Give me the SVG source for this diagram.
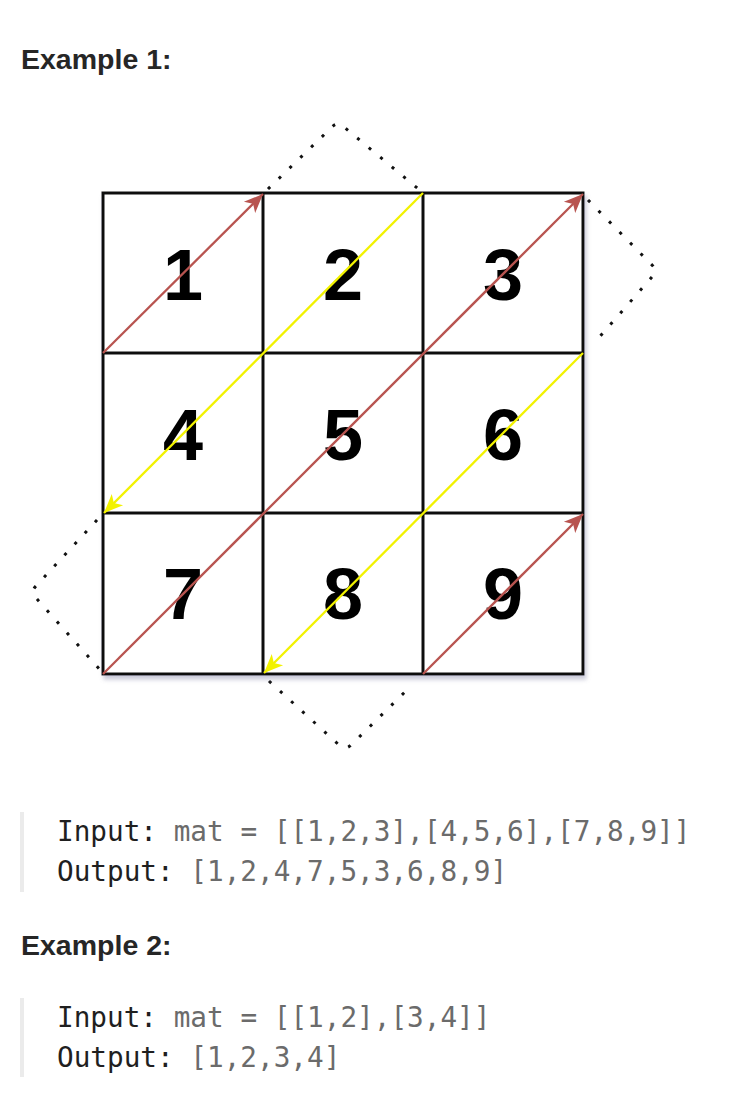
<svg xmlns="http://www.w3.org/2000/svg" width="750" height="1116" viewBox="0 0 750 1116">
<defs>
<style>
.hd{font-family:"Liberation Sans",Arial,sans-serif;font-weight:bold;font-size:28.5px;fill:#262626}
.num{font-family:"Liberation Sans",Arial,sans-serif;font-weight:bold;font-size:72px;fill:#000;text-anchor:middle}
.code{font-family:"DejaVu Sans Mono",monospace;font-size:27.7px;fill:#6b6b6b}
.kw{fill:#1f1f1f}
.grid{fill:none;stroke:#111;stroke-width:3}
.red{stroke:#b85450;stroke-width:2.3;fill:none}
.yel{stroke:#f2f200;stroke-width:2.3;fill:none}
.dot{stroke:#111;stroke-width:3;fill:none;stroke-dasharray:3 12}
.bar{fill:#ebebeb}
</style>
<filter id="sh" x="-5%" y="-5%" width="115%" height="115%">
<feDropShadow dx="2" dy="4" stdDeviation="2" flood-color="#8888aa" flood-opacity="0.45"/>
</filter>
<marker id="ar" markerUnits="userSpaceOnUse" markerWidth="22" markerHeight="18" viewBox="-20 -9 22 18" refX="0" refY="0" orient="auto">
<path d="M0,0 L-19,-8 L-14,0 L-19,8 Z" fill="#b85450"/>
</marker>
<marker id="ay" markerUnits="userSpaceOnUse" markerWidth="22" markerHeight="18" viewBox="-20 -9 22 18" refX="0" refY="0" orient="auto">
<path d="M0,0 L-19,-8 L-14,0 L-19,8 Z" fill="#f2f200"/>
</marker>
</defs>
<rect width="750" height="1116" fill="#fff"/>

<text class="hd" x="21" y="69">Example 1:</text>

<g id="dotted">
<path class="dot" d="M268,189 L332,127 Q338,121 344,127 L422,192"/>
<path class="dot" d="M588,200 L652,265 Q658,271 652,277 L595,342"/>
<path class="dot" d="M97,520 L36,586 Q30,592 36,598 L102,672"/>
<path class="dot" d="M269,681 L339,745 Q345,751 351,745 L410,687"/>
</g>

<g id="grid" filter="url(#sh)">
<rect x="103" y="193" width="480" height="481" fill="#fff"/>
<path class="grid" d="M103,193 H583 V674 H103 Z M263,193 V674 M423,193 V674 M103,353 H583 M103,513 H583"/>
</g>

<g id="n1"><text class="num" x="183" y="300">1</text></g>
<g id="n2"><text class="num" x="343" y="300">2</text></g>
<g id="n3"><text class="num" x="503" y="300">3</text></g>
<g id="n4"><text class="num" x="183" y="460">4</text></g>
<g id="n5"><text class="num" x="343" y="460">5</text></g>
<g id="n6"><text class="num" x="503" y="460">6</text></g>
<g id="n7"><text class="num" x="183" y="619">7</text></g>
<g id="n8"><text class="num" x="343" y="619">8</text></g>
<g id="n9"><text class="num" x="503" y="619">9</text></g>

<g id="connectors">
<line class="red" x1="103" y1="353" x2="263" y2="194" marker-end="url(#ar)"/>
<line class="yel" x1="423" y1="193" x2="104" y2="513" marker-end="url(#ay)"/>
<line class="red" x1="103" y1="674" x2="583" y2="194" marker-end="url(#ar)"/>
<line class="yel" x1="583" y1="353" x2="264" y2="673" marker-end="url(#ay)"/>
<line class="red" x1="423" y1="674" x2="583" y2="514" marker-end="url(#ar)"/>
</g>

<rect class="bar" x="20" y="812" width="4" height="80"/>
<text class="code" x="57" y="841" xml:space="preserve"><tspan class="kw">Input:</tspan> mat = [[1,2,3],[4,5,6],[7,8,9]]</text>
<text class="code" x="57" y="881" xml:space="preserve"><tspan class="kw">Output:</tspan> [1,2,4,7,5,3,6,8,9]</text>

<text class="hd" x="21" y="955">Example 2:</text>

<rect class="bar" x="20" y="998" width="4" height="79"/>
<text class="code" x="57" y="1027" xml:space="preserve"><tspan class="kw">Input:</tspan> mat = [[1,2],[3,4]]</text>
<text class="code" x="57" y="1067" xml:space="preserve"><tspan class="kw">Output:</tspan> [1,2,3,4]</text>
</svg>
